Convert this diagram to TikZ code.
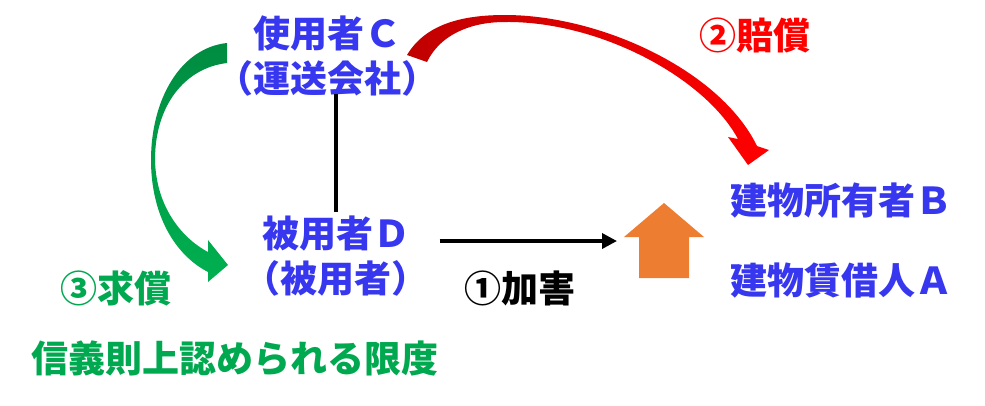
\documentclass[tikz,border=0pt]{standalone}
\usepackage{fontspec}
\setmainfont{Noto Sans CJK JP}
\usetikzlibrary{arrows.meta}
\definecolor{partyblue}{RGB}{55,55,240}
\definecolor{claimgreen}{RGB}{0,168,80}
\definecolor{arrowgreen}{RGB}{0,176,80}
\definecolor{tailgreen}{RGB}{0,140,65}
\definecolor{tailred}{RGB}{192,0,0}
\definecolor{houseorange}{RGB}{237,125,49}

\begin{document}
\begin{tikzpicture}[x=1pt,y=-1pt,
    every node/.style={font=\fontsize{37}{45}\selectfont\bfseries,inner sep=0pt,align=center},
    party/.style={text=partyblue},
    harm/.style={line width=3.5pt,-{Triangle[length=15pt,width=15pt]}}]
  \useasboundingbox (0,0) rectangle (985,405);
  \node[party] (C) at (327,56) {使用者Ｃ\\（運送会社）};
  \node[party] (D) at (336,256) {被用者Ｄ\\（被用者）};
  \node[party] (B) at (841,201) {建物所有者Ｂ};
  \node[party] (A) at (841,281) {建物賃借人Ａ};
  \node[text=red] (pay) at (755,36) {②賠償};
  \node (hurt) at (520,288) {①加害};
  \node[text=claimgreen] (claim) at (116,288) {③求償};
  \node[text=claimgreen] (limit) at (235,358) {信義則上認められる限度};
  % building hit by the employee
  \fill[houseorange] (639,278) -- (639,237) -- (624,237) -- (664,203) -- (704,237)
    -- (689,237) -- (689,278) -- cycle;
  \coordinate (hit) at (617,241);
  \draw[line width=4pt,shorten <=-2pt,shorten >=4pt] (C.south -| D.north) -- (D.north);
  \draw[harm,shorten <=11pt] (D.east |- hit) -- (hit);
  % curved block arrows
  \shade[left color=tailred,middle color=red,right color=red]
    (407,55) .. controls (425,25) and (460,15) .. (505,15)
    .. controls (600,15) and (720,70) .. (757,146) -- (769,150) -- (748,165)
    -- (728,137) -- (738,139) .. controls (705,78) and (600,21) .. (505,22)
    .. controls (470,22) and (440,35) .. (427,62) -- cycle;
  \shade[top color=tailgreen,middle color=arrowgreen,bottom color=arrowgreen]
    (227,43) .. controls (180,48) and (151,100) .. (151,160)
    .. controls (151,215) and (175,255) .. (208,272) -- (208,282) -- (228,265)
    -- (208,240) -- (208,252) .. controls (180,237) and (156,205) .. (155,160)
    .. controls (155,105) and (185,68) .. (227,63) -- cycle;
\end{tikzpicture}
\end{document}
